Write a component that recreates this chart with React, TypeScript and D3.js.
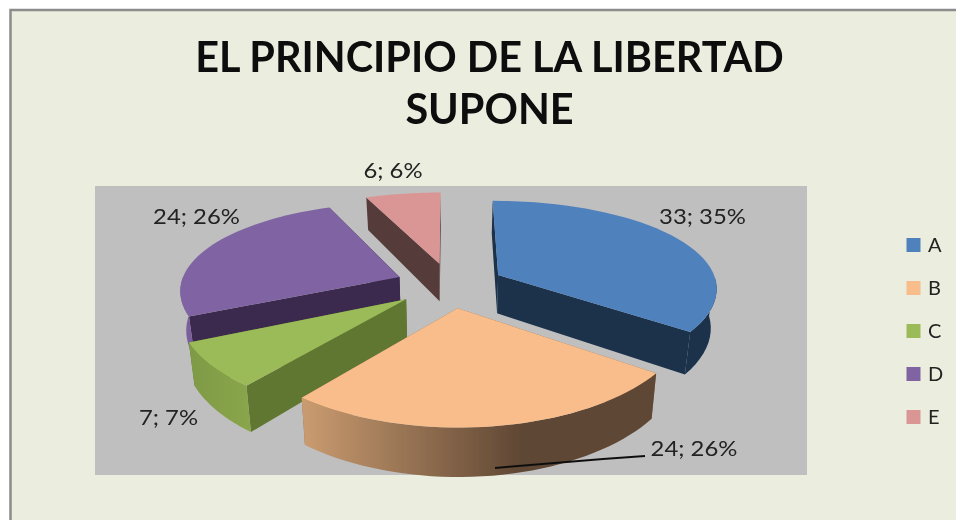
import React from "react";
import * as d3 from "d3";

const categories = ["A", "B", "C", "D", "E"];
const values = [33, 24, 7, 24, 6];
const percents = ["35%", "26%", "7%", "26%", "6%"];
const topColors = ["#4f81bd", "#f8bd8a", "#9bbb59", "#8064a2", "#d99694"];
const faceColors = ["#1c314c", "#8a6a4c", "#607733", "#3a2a4d", "#573a3a"];
const sideStart = ["#1c314c", "#cb9c70", "#7f9a45", "#7a5f9c", "#573a3a"];
const sideEnd = ["#1c314c", "#5f4734", "#8aa64c", "#7a5f9c", "#573a3a"];
const drawOrder = [4, 3, 0, 2, 1];
const titleLines = ["EL PRINCIPIO DE LA LIBERTAD", "SUPONE"];
const labelPos: [number, number][] = [[702.5, 217], [694, 449], [168.5, 418], [196.5, 217], [393, 171]];
const legendY = [245, 288, 331, 374, 417];

const W = 956, H = 520;
const cx = 450, cy = 285, rx = 219, ry = 90, perspX = 0.13, perspY = 0.17, explode = 0.25, depth = 39;

function project(X: number, Y: number, down = 0): [number, number] {
  const fx = 1 + perspX * Y, fy = 1 + perspY * Y;
  const shrink = 1 - 0.022 * down; // vertical edges converge slightly toward the base
  return [cx + (shrink * X * rx) / fx, cy - (Y * ry) / fy + (down * depth) / fy];
}

const pieGen = d3.pie<number>().sort(null).value((d) => d).startAngle(0).endAngle(2 * Math.PI);
const arcs = pieGen(values);
const line = d3.line<[number, number]>();

function sliceGeom(i: number) {
  const a = arcs[i];
  const mid = (a.startAngle + a.endAngle) / 2;
  const ox = explode * Math.sin(mid), oy = explode * Math.cos(mid);
  const pt = (ang: number, r: number, down = 0) =>
    project(ox + r * Math.sin(ang), oy + r * Math.cos(ang), down);
  const angles = (s: number, e: number) => d3.range(0, 41).map((k) => s + ((e - s) * k) / 40);
  const rim = angles(a.startAngle, a.endAngle);
  const top = "M" + pt(0, 0) + "L" + line(rim.map((t) => pt(t, 1)))!.slice(1) + "Z";
  const face = (ang: number) =>
    line([pt(0, 0), pt(ang, 1), pt(ang, 1, 1), pt(0, 0, 1)])! + "Z";
  const vis = rim.filter((t) => Math.cos(t) <= 0.02);
  const side = vis.length > 1
    ? line([...vis.map((t) => pt(t, 1)), ...vis.slice().reverse().map((t) => pt(t, 1, 1))])! + "Z"
    : null;
  return { top, startFace: face(a.startAngle), endFace: face(a.endAngle), side };
}

export default function App() {
  return (
    <svg width={W} height={H} style={{ position: "absolute", left: 0, top: 0, background: "#fff" }}
      fontFamily="Lato, 'Open Sans', sans-serif">
      <defs>
        <filter id="soft" x="0" y="0" width="1" height="1" filterUnits="objectBoundingBox">
          <feGaussianBlur stdDeviation="0.55" />
        </filter>
        {categories.map((c, i) => (
          <linearGradient key={c} id={"side" + c} x1="0" x2="1" y1="0" y2="0">
            <stop offset="0" stopColor={sideStart[i]} />
            <stop offset={c === "B" ? "0.62" : "1"} stopColor={sideEnd[i]} />
            <stop offset="1" stopColor={sideEnd[i]} />
          </linearGradient>
        ))}
      </defs>
      <g filter="url(#soft)">
        <rect x={0} y={0} width={W} height={H} fill="#fff" />
        <rect x={10.5} y={10} width={W} height={H} fill="#ebeedf" stroke="#8c8c8c" strokeWidth={2.5} />
        <rect x={95} y={186} width={712} height={289} fill="#bfbfbf" />
        {titleLines.map((t, i) => (
          <text key={t} x={489.5} y={71.5 + i * 52} textAnchor="middle" fontSize={41.4} fontWeight={700} fill="#0a0a0a">{t}</text>
        ))}
        {drawOrder.map((i) => {
          const g = sliceGeom(i);
          return (
            <g key={categories[i]}>
              <path d={g.endFace} fill={faceColors[i]} />
              <path d={g.startFace} fill={faceColors[i]} />
              {g.side && <path d={g.side} fill={`url(#side${categories[i]})`} />}
              <path d={g.top} fill={topColors[i]} />
            </g>
          );
        })}
        <path d={line([[495, 468], [603, 459], [645, 456]])!} fill="none" stroke="#111" strokeWidth={2} />
        {categories.map((c, i) => (
          <text key={c} textAnchor="middle" fontSize={21.5} fill="#222"
            transform={`translate(${labelPos[i][0]},${labelPos[i][1] + 7}) scale(1.11,1)`}>
            {`${values[i]}; ${percents[i]}`}
          </text>
        ))}
        {categories.map((c, i) => (
          <g key={c}>
            <rect x={906.5} y={legendY[i] - 7} width={14} height={14} fill={topColors[i]} />
            <text x={928} y={legendY[i] + 7} fontSize={20} fill="#222">{c}</text>
          </g>
        ))}
      </g>
    </svg>
  );
}
